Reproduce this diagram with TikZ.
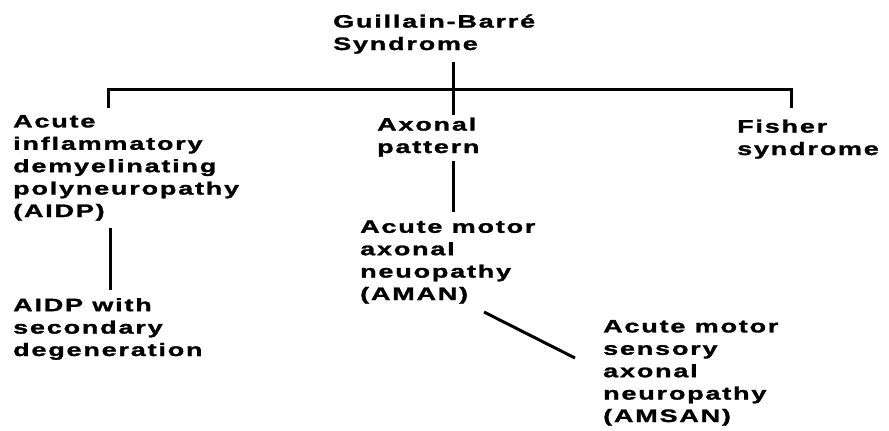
\documentclass[tikz,border=0pt]{standalone}
\usepackage{fontspec}
\usepackage{tikz}

\newfontfamily\gbsfamily[FakeStretch=1.5,LetterSpace=10,FakeBold=1.5]{Liberation Sans Bold}

\begin{document}
\begin{tikzpicture}[x=1pt,y=1pt]

% Stili
\tikzset{
  lbl/.style={anchor=base west, align=left, inner sep=0pt,
    font=\gbsfamily\fontsize{18}{22.4}\selectfont},
  link/.style={draw=black, line width=3pt}
}

% Cornice
\useasboundingbox (0,0) rectangle (889,-431);

% Etichette (ancorate alla linea di base dell'ultima riga)
\node[lbl] (root) at (333,-50) {Guillain-Barré\\Syndrome};
\node[lbl] (aidp) at (13,-217) {Acute\\inflammatory\\demyelinating\\polyneuropathy\\(AIDP)};
\node[lbl] (axonal) at (377,-153) {Axonal\\pattern};
\node[lbl] (fisher) at (737,-155) {Fisher\\syndrome};
\node[lbl] (aman) at (360,-300) {Acute motor\\axonal\\neuopathy\\(AMAN)};
\node[lbl] (aidpsec) at (13,-356) {AIDP with\\secondary\\degeneration};
\node[lbl] (amsan) at (603,-422) {Acute motor\\sensory\\axonal\\neuropathy\\(AMSAN)};

% Punti di aggancio
\coordinate (stemtop) at (453,-62);
\coordinate (stembot) at (453,-115);
\coordinate (barL) at (108,-89);
\coordinate (barR) at (791,-89);
\coordinate (tickL) at (108,-108);
\coordinate (tickR) at (791,-108);
\coordinate (axtop) at (453,-161);
\coordinate (axbot) at (453,-212);
\coordinate (aitop) at (110,-228);
\coordinate (aibot) at (110,-290);
\coordinate (dgtop) at (484,-312);
\coordinate (dgbot) at (575,-358);

% Linee
\draw[link] (stemtop) -- (stembot);
\draw[link] (tickL) -- (barL) -- (barR) -- (tickR);
\draw[link] (axtop) -- (axbot);
\draw[link] (aitop) -- (aibot);
\draw[link] (dgtop) -- (dgbot);

\end{tikzpicture}
\end{document}
